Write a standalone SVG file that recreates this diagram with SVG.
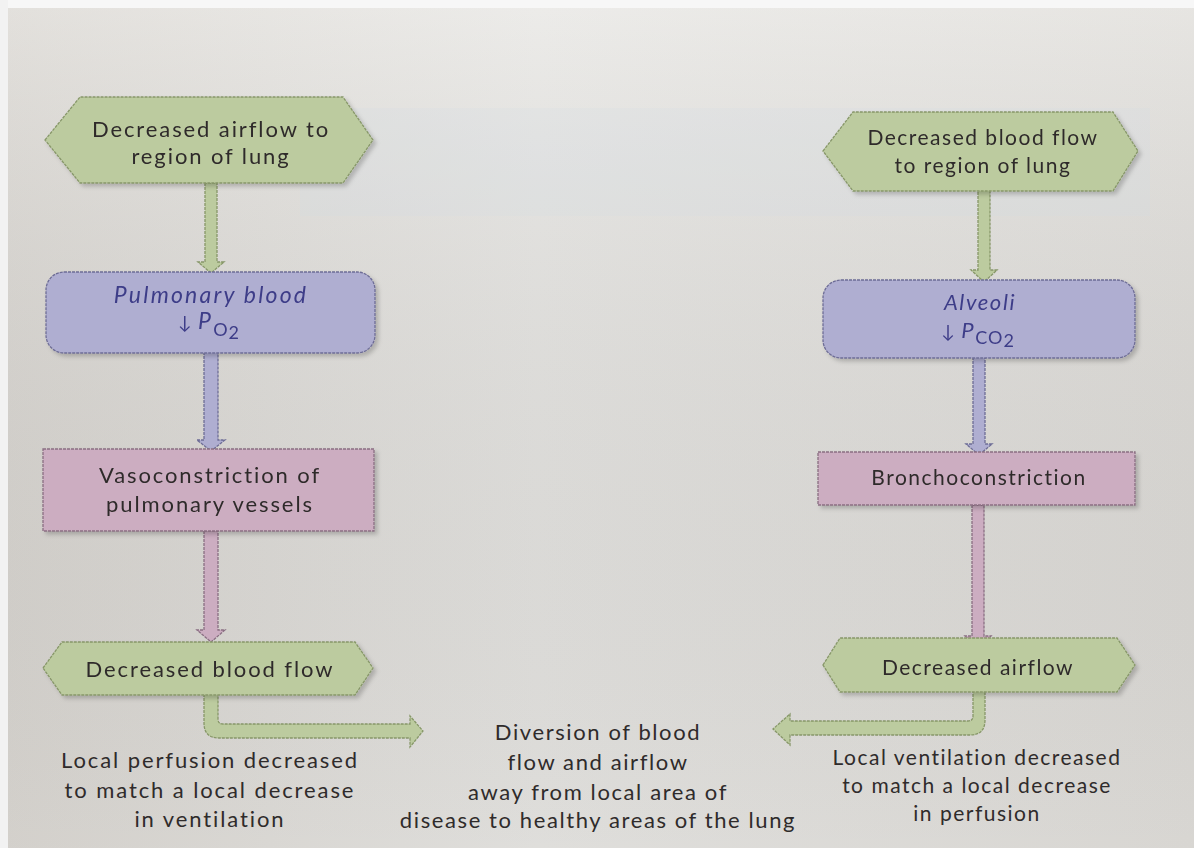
<svg xmlns="http://www.w3.org/2000/svg" width="1194" height="848" viewBox="0 0 1194 848">
<defs>
<linearGradient id="bg" x1="0" y1="0" x2="1" y2="0">
<stop offset="0" stop-color="#dcd9d4"/>
<stop offset="0.45" stop-color="#e8e7e4"/>
<stop offset="1" stop-color="#e1dfdb"/>
</linearGradient>
<linearGradient id="bgv" x1="0" y1="0" x2="0" y2="1">
<stop offset="0" stop-color="#ffffff" stop-opacity="0.2"/>
<stop offset="1" stop-color="#000000" stop-opacity="0.04"/>
</linearGradient>
<filter id="sh" x="-10%" y="-10%" width="130%" height="140%">
<feDropShadow dx="3" dy="3" stdDeviation="2" flood-color="#000" flood-opacity="0.2"/>
</filter>
<style>
.green{fill:#bccb9f;stroke:#879769;stroke-width:1.3;stroke-dasharray:3 1}
.lav{fill:#afaed1;stroke:#6e6d96;stroke-width:1.3;stroke-dasharray:3 1}
.pink{fill:#ccadc1;stroke:#8a6f83;stroke-width:1.3;stroke-dasharray:3 1}
text{font-family:Lato,"Open Sans","Liberation Sans",sans-serif;fill:#2f2b2b;text-anchor:middle;font-size:22px;letter-spacing:1.9px}
.r{font-size:21px;letter-spacing:1.5px}
.m{letter-spacing:1.6px}
.it{font-style:italic;fill:#3d3c88;font-size:22px;letter-spacing:1.6px}
.itl{font-size:23px;letter-spacing:2.2px}
.sub{font-style:normal;font-size:18px;letter-spacing:1px}
</style>
</defs>
<rect width="1194" height="848" fill="url(#bg)"/>
<rect width="1194" height="848" fill="url(#bgv)"/>
<rect x="300" y="108" width="850" height="108" fill="#d4dce6" opacity="0.2"/>
<rect x="0" y="0" width="1194" height="8" fill="#f7f7f7"/>
<rect x="0" y="0" width="8" height="848" fill="#f2f2f2"/>

<g id="connectors">
<path class="green" d="M205,183 V262 H198 L211,273 L224,262 H217 V183 Z"/>
<path class="lav" d="M204,352 V440 H197 L211,451 L225,440 H218 V352 Z"/>
<path class="pink" d="M204,531 V630 H197 L211,642 L225,630 H218 V531 Z"/>
<path class="green" d="M204,690 V723 Q204,738 219,738 H410 V747 L423,731 L410,716 V724 H223 Q218,724 218,719 V690 Z"/>
<path class="green" d="M978,188 V270 H971 L984,282 L997,270 H990 V188 Z"/>
<path class="lav" d="M973,357 V444 H966 L979,455 L992,444 H985 V357 Z"/>
<path class="pink" d="M972,505 V636 H965 L978,648 L991,636 H984 V505 Z"/>
<path class="green" d="M985,688 V720 Q985,735 970,735 H790 V745 L773,729 L790,714 V721 H968 Q973,721 973,716 V688 Z"/>
</g>

<g id="n1" filter="url(#sh)">
<polygon class="green" points="45,140 80,97 343,97 373,140 343,183 80,183"/>
<text x="211" y="137">Decreased airflow to</text>
<text x="211" y="164">region of lung</text>
</g>
<g id="n2" filter="url(#sh)">
<rect class="lav" x="46" y="272" width="329" height="81" rx="18"/>
<text class="it itl" x="211" y="303">Pulmonary blood</text>
<text class="it itl" x="209" y="329"><tspan class="sub">↓ </tspan>P<tspan class="sub" dy="7">O</tspan><tspan class="sub" dy="3">2</tspan></text>
</g>
<g id="n3" filter="url(#sh)">
<rect class="pink" x="43" y="449" width="331" height="82"/>
<text x="210" y="483">Vasoconstriction of</text>
<text x="210" y="512">pulmonary vessels</text>
</g>
<g id="n4" filter="url(#sh)">
<polygon class="green" points="43,668 62,642 355,642 373,668 355,695 62,695"/>
<text x="210" y="677">Decreased blood flow</text>
</g>
<text x="210" y="768">Local perfusion decreased</text>
<text x="210" y="798">to match a local decrease</text>
<text x="210" y="827">in ventilation</text>

<g id="n5" filter="url(#sh)">
<polygon class="green" points="823,151 853,112 1113,112 1138,151 1113,191 853,191"/>
<text class="r" x="983" y="145">Decreased blood flow</text>
<text class="r" x="983" y="173">to region of lung</text>
</g>
<g id="n6" filter="url(#sh)">
<rect class="lav" x="823" y="280" width="312" height="78" rx="18"/>
<text class="it" x="980" y="310">Alveoli</text>
<text class="it" x="978" y="338"><tspan class="sub">↓ </tspan>P<tspan class="sub" dy="6">CO</tspan><tspan class="sub" dy="3">2</tspan></text>
</g>
<g id="n7" filter="url(#sh)">
<rect class="pink" x="818" y="452" width="317" height="53"/>
<text class="r" x="979" y="485">Bronchoconstriction</text>
</g>
<g id="n8" filter="url(#sh)">
<polygon class="green" points="823,665 840,638 1117,638 1135,665 1117,692 840,692"/>
<text class="r" x="978" y="675">Decreased airflow</text>
</g>
<text class="r" x="977" y="765">Local ventilation decreased</text>
<text class="r" x="977" y="793">to match a local decrease</text>
<text class="r" x="977" y="821">in perfusion</text>

<text class="m" x="598" y="740">Diversion of blood</text>
<text class="m" x="598" y="770">flow and airflow</text>
<text class="m" x="598" y="800">away from local area of</text>
<text class="m" x="598" y="828">disease to healthy areas of the lung</text>
</svg>
